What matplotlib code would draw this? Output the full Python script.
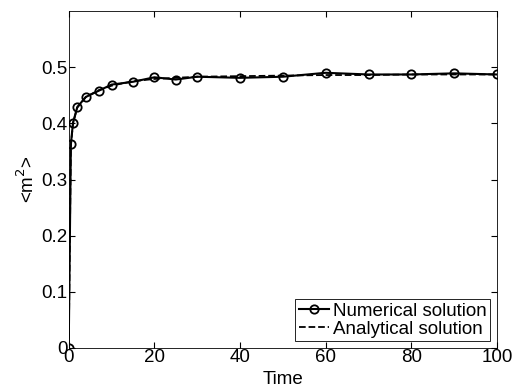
import matplotlib
matplotlib.use('Agg')
import matplotlib.pyplot as plt

plt.rcParams['font.family'] = ['Liberation Sans', 'DejaVu Sans']

t = [0, 0.5, 1, 2, 4, 7, 10, 15, 20, 25, 30, 40, 50, 60, 70, 80, 90, 100]
numerical = [0, 0.363, 0.401, 0.429, 0.447, 0.458, 0.469, 0.474, 0.482, 0.478,
             0.483, 0.481, 0.483, 0.490, 0.487, 0.487, 0.489, 0.487]
analytical = [0, 0.360, 0.400, 0.428, 0.447, 0.459, 0.467, 0.475, 0.479, 0.481,
              0.483, 0.484, 0.485, 0.486, 0.486, 0.487, 0.487, 0.487]

fig = plt.figure(figsize=(5.14, 3.89), dpi=100)
ax = fig.add_axes([0.1337, 0.1054, 0.8333, 0.8663])

ax.plot(t, numerical, 'k-', marker='o', mfc='none', mec='k', ms=6, mew=1.3,
        lw=1.5, label='Numerical solution')
ax.plot(t, analytical, 'k--', lw=1.3, label='Analytical solution')

ax.set_xlim(0, 100)
ax.set_ylim(0, 0.6)
ax.set_xticks([0, 20, 40, 60, 80, 100])
ax.set_yticks([0, 0.1, 0.2, 0.3, 0.4, 0.5])
ax.set_yticklabels(['0', '0.1', '0.2', '0.3', '0.4', '0.5'])
ax.tick_params(direction='in', top=True, right=True, labelsize=13.5, length=4, pad=1)
for s in ax.spines.values():
    s.set_linewidth(0.6)

ax.set_xlabel('Time', fontsize=13.5)
ax.xaxis.set_label_coords(0.5, -0.068)
ax.set_ylabel('<m$^2$>', fontsize=13.5, labelpad=2)

leg = ax.legend(loc='lower right', fontsize=13.5, handlelength=1.6, handletextpad=0.2,
                borderpad=0.2, labelspacing=0.05, fancybox=False, framealpha=1,
                borderaxespad=0.35)
leg.get_frame().set_edgecolor('k')
leg.get_frame().set_linewidth(0.6)

fig.savefig('out.png', dpi=100)
